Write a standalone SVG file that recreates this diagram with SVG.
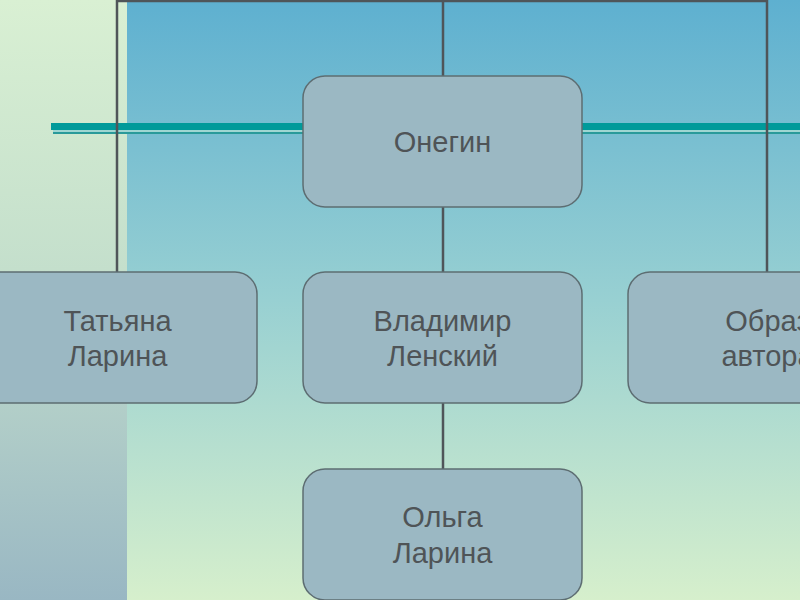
<svg xmlns="http://www.w3.org/2000/svg" width="800" height="600" viewBox="0 0 800 600">
<defs>
<linearGradient id="gLeft" x1="0" y1="0" x2="0" y2="1">
<stop offset="0" stop-color="#d9f0d3"/>
<stop offset="0.45" stop-color="#c4dfcc"/>
<stop offset="1" stop-color="#99b7c3"/>
</linearGradient>
<linearGradient id="gRight" x1="0" y1="0" x2="0" y2="1">
<stop offset="0" stop-color="#5eb0d0"/>
<stop offset="0.5" stop-color="#98d0d2"/>
<stop offset="1" stop-color="#d6efcc"/>
</linearGradient>
<style>
.node rect{fill:#9bb8c3;stroke:#5d6d72;stroke-width:1.5}
.node text{font-family:"Liberation Sans",Arial,sans-serif;font-size:29px;fill:#4f5457;text-anchor:middle}
.conn line{stroke:#4f5559;stroke-width:2.5}
</style>
</defs>
<rect x="0" y="0" width="127" height="600" fill="url(#gLeft)"/>
<rect x="127" y="0" width="673" height="600" fill="url(#gRight)"/>
<rect x="51" y="123" width="749" height="7" fill="#009a9a"/>
<rect x="53" y="130" width="747" height="2" fill="#9fd6d2"/>
<rect x="53" y="132" width="747" height="2" fill="#2a9a9a"/>
<g id="connectors" class="conn">
<line x1="117" y1="1" x2="767" y2="1"/>
<line x1="117" y1="0" x2="117" y2="272"/>
<line x1="767" y1="0" x2="767" y2="272"/>
<line x1="443" y1="0" x2="443" y2="76"/>
<line x1="443" y1="207" x2="443" y2="272"/>
<line x1="443" y1="403" x2="443" y2="469"/>
</g>
<g id="onegin" class="node">
<rect x="303" y="76" width="279" height="131" rx="22"/>
<text x="442.5" y="151.5">Онегин</text>
</g>
<g id="tatyana" class="node">
<rect x="-22" y="272" width="279" height="131" rx="22"/>
<text x="117.5" y="331">Татьяна</text>
<text x="117.5" y="366">Ларина</text>
</g>
<g id="vladimir" class="node">
<rect x="303" y="272" width="279" height="131" rx="22"/>
<text x="442.5" y="331">Владимир</text>
<text x="442.5" y="366">Ленский</text>
</g>
<g id="obraz" class="node">
<rect x="628" y="272" width="279" height="131" rx="22"/>
<text x="767.5" y="331">Образ</text>
<text x="767.5" y="366">автора</text>
</g>
<g id="olga" class="node">
<rect x="303" y="469" width="279" height="131" rx="22"/>
<text x="442.5" y="527">Ольга</text>
<text x="442.5" y="563">Ларина</text>
</g>
</svg>
